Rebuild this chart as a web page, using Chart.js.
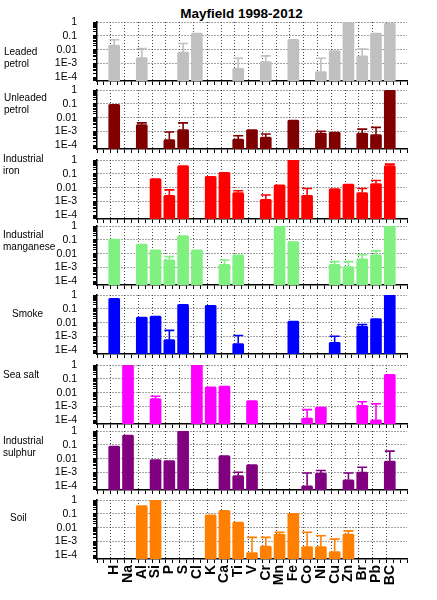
<!DOCTYPE html>
<html><head><meta charset="utf-8">
<script src="https://cdn.jsdelivr.net/npm/chart.js@4.4.1/dist/chart.umd.min.js"></script>
<style>
html,body{margin:0;padding:0;background:#fff;}
#wrap{position:relative;width:437px;height:600px;overflow:hidden;background:#fff;}
canvas{position:absolute;left:0;}
.lab{position:absolute;font:10px "Liberation Sans",Arial,sans-serif;line-height:12px;color:#000;white-space:nowrap;}
#title{position:absolute;left:0;width:483px;top:5px;text-align:center;font:bold 13.5px "Liberation Sans",Arial,sans-serif;line-height:17px;color:#000;}
</style></head><body><div id="wrap"><div id="title">Mayfield 1998-2012</div></div>
<script>
// ---- data ----
const categories = ['H','Na','Al','Si','P','S','Cl','K','Ca','Ti','V','Cr','Mn','Fe','Co','Ni','Cu','Zn','Br','Pb','BC'];
const yTickLabels = ['1','0.1','0.01','1E-3','1E-4'];
const sourceNames = [['Leaded','petrol'],['Unleaded','petrol'],['Industrial','iron'],['Industrial','manganese'],['Smoke'],['Sea salt'],['Industrial','sulphur'],['Soil']];

const leaded      = [0.022,null,0.0027,null,null,0.0066,0.16,null,null,4.5e-4,null,1.4e-3,null,0.055,null,2.6e-4,0.0087,1,0.0036,0.16,0.85];
const leadedErr   = [0.052,null,0.012,null,null,0.028,null,null,null,0.0024,null,0.0036,null,null,null,0.0024,null,null,0.011,null,null];
const unleaded    = [0.091,null,0.0032,null,2.6e-4,0.0014,null,null,null,2.9e-4,1.4e-3,4e-4,null,0.0066,null,7.9e-4,9.3e-4,null,7.9e-4,6e-4,0.95];
const unleadedErr = [null,null,0.0042,null,9.3e-4,0.0042,null,null,null,5e-4,null,6.6e-4,null,null,null,1.05e-3,null,null,1.5e-3,2e-3,null];
const iron        = [null,null,null,0.046,2.8e-3,0.39,null,0.065,0.127,0.0045,null,1.45e-3,0.016,1,2.8e-3,null,0.0087,0.018,4.5e-3,0.02,0.39];
const ironErr     = [null,null,null,null,0.007,null,null,null,null,0.006,null,0.003,null,null,0.0087,null,null,null,0.0087,0.033,0.5];
const manganese   = [0.113,null,0.049,0.019,0.0036,0.2,0.019,null,1.7e-3,0.0083,null,null,1,0.076,null,null,1.7e-3,1.2e-3,4.2e-3,0.0083,1];
const manganeseErr= [null,null,null,null,0.0062,null,null,null,0.0035,null,null,null,null,null,null,null,0.0027,0.0027,0.0083,0.016,null];
const smoke       = [0.57,null,0.025,0.03,6e-4,0.21,null,0.18,null,3.1e-4,null,null,null,0.013,null,null,3.8e-4,null,5.6e-3,0.02,1];
const smokeErr    = [null,null,null,null,2.8e-3,null,null,null,null,1.2e-3,null,null,null,null,null,null,1.05e-3,null,7.4e-3,null,null];
const seaSalt     = [null,0.95,null,3.8e-3,null,null,1,0.026,0.03,null,2.7e-3,null,null,null,1.5e-4,9.3e-4,null,null,1.25e-3,1.1e-4,0.21];
const seaSaltErr  = [null,null,null,5.6e-3,null,null,null,null,null,null,null,null,null,null,6e-4,null,null,null,2.2e-3,1.6e-3,null];
const sulphur     = [0.081,0.51,null,8.7e-3,7.4e-3,1,null,null,0.017,6e-4,3.8e-3,null,null,null,1.1e-4,9.3e-4,null,3e-4,1.1e-3,null,6.6e-3];
const sulphurErr  = [null,null,null,null,null,null,null,null,null,1.05e-3,null,null,null,null,9.3e-4,1.4e-3,null,9.3e-4,2.4e-3,null,0.035];
const soil        = [null,null,0.39,1,null,null,null,0.086,0.18,0.025,1.6e-4,4.8e-4,3.4e-3,0.11,4.3e-4,4.3e-4,1.9e-4,3.4e-3,null,null,null];
const soilErr     = [null,null,null,null,null,null,null,null,null,null,2e-3,2e-3,4.7e-3,null,4.7e-3,2.6e-3,1.5e-3,5.9e-3,null,null,null];

// ---- layout / style ----
const seriesValues = [leaded, unleaded, iron, manganese, smoke, seaSalt, sulphur, soil];
const seriesErrors = [leadedErr, unleadedErr, ironErr, manganeseErr, smokeErr, seaSaltErr, sulphurErr, soilErr];
const colors = ['#c0c0c0','#800000','#ff0000','#80f080','#0000ff','#ff00ff','#800080','#ff8000'];
const plotTops = [22, 90, 160, 226, 295, 365, 431, 500];
const labelTops = [46, 92, 153, 229, 308, 369, 435, 512];
const labelLefts = [4, 4, 3, 3, 12, 3, 3, 10];
const PLOT_H = 59, PAD_TOP = 8;

const wrap = document.getElementById('wrap');

const errorBars = {
  id: 'errorBars',
  afterDatasetsDraw(chart, args, opts) {
    const {ctx} = chart; const x = chart.scales.x, y = chart.scales.y;
    const vals = opts.values, errs = opts.errors;
    ctx.save();
    ctx.strokeStyle = opts.color; ctx.lineWidth = 1.6;
    errs.forEach((e, i) => {
      if (e == null || vals[i] == null) return;
      const px = x.getPixelForValue(i);
      const y0 = y.getPixelForValue(vals[i]);
      const y1 = y.getPixelForValue(e);
      ctx.beginPath();
      ctx.moveTo(px, y0); ctx.lineTo(px, y1);
      ctx.moveTo(px - 5, y1); ctx.lineTo(px + 5, y1);
      ctx.stroke();
    });
    ctx.restore();
  }
};

function isDecade(v) { const l = Math.log10(v); return Math.abs(l - Math.round(l)) < 1e-6; }

seriesValues.forEach((vals, p) => {
  const last = p === seriesValues.length - 1;
  const xH = last ? 40 : 6;
  const cv = document.createElement('canvas');
  cv.width = 437; cv.height = PAD_TOP + PLOT_H + xH;
  cv.style.top = (plotTops[p] - PAD_TOP) + 'px';
  wrap.appendChild(cv);

  const lab = document.createElement('div');
  lab.className = 'lab';
  lab.style.left = labelLefts[p] + 'px';
  lab.style.top = labelTops[p] + 'px';
  lab.innerHTML = sourceNames[p].join('<br>');
  wrap.appendChild(lab);

  new Chart(cv, {
    type: 'bar',
    data: { datasets: [{
      data: vals.map((v, i) => ({x: i, y: v})),
      backgroundColor: colors[p],
      borderWidth: 0,
      borderRadius: 1.5,
      barThickness: 11
    }]},
    options: {
      responsive: false, animation: false, devicePixelRatio: 1,
      layout: { padding: { top: PAD_TOP, left: 0, right: 30, bottom: 0 } },
      plugins: { legend: {display: false}, tooltip: {enabled: false},
        errorBars: { values: vals, errors: seriesErrors[p], color: colors[p] } },
      scales: {
        x: {
          type: 'linear', min: -1, max: 21,
          afterBuildTicks: s => { const t = []; for (let k = -2; k <= 42; k++) t.push({value: k / 2}); s.ticks = t; },
          afterFit: s => { s.height = xH; s.paddingTop = 0; s.paddingBottom = 0; },
          grid: {
            color: c => { const v = c.tick && c.tick.value; return (Number.isInteger(v) && v >= 0 && v < categories.length) ? '#444' : 'rgba(0,0,0,0)'; },
            tickColor: '#000', tickLength: 4, lineWidth: 1, tickWidth: 1
          },
          border: { display: true, color: '#000', width: 1.5, dash: [1, 2] },
          ticks: {
            display: last, autoSkip: false, maxRotation: 90, minRotation: 90, padding: 2,
            color: '#000', font: { family: '"Liberation Sans", Arial, sans-serif', size: 14, weight: 'bold' },
            callback: v => (Number.isInteger(v) && v >= 0 && v < categories.length) ? categories[v] : ''
          }
        },
        y: {
          type: 'logarithmic', min: 5.5e-5, max: 1,
          afterBuildTicks: s => {
            const t = [];
            for (let e = -5; e <= 0; e++) for (let m = 1; m <= 9; m++) {
              const v = m * Math.pow(10, e);
              if (v >= s.min * 1.0001 && v <= s.max * 1.0001) t.push({value: v});
            }
            s.ticks = t;
          },
          afterFit: s => { s.width = 97; s.paddingTop = 0; s.paddingBottom = 0; },
          grid: {
            color: c => { const v = c.tick && c.tick.value; return (v && isDecade(v) && v > 2e-4) ? '#444' : 'rgba(0,0,0,0)'; },
            tickColor: '#000', tickLength: 4, lineWidth: 1, tickWidth: 1
          },
          border: { display: true, color: '#000', width: 1.5, dash: [1, 2] },
          ticks: {
            autoSkip: false, padding: 16, color: '#000',
            font: { family: '"Liberation Sans", Arial, sans-serif', size: 10.5 },
            callback: v => { if (!isDecade(v)) return ''; const e = -Math.round(Math.log10(v)); return yTickLabels[e] !== undefined ? yTickLabels[e] : ''; }
          }
        }
      }
    },
    plugins: [errorBars]
  });
});
</script></body></html>
